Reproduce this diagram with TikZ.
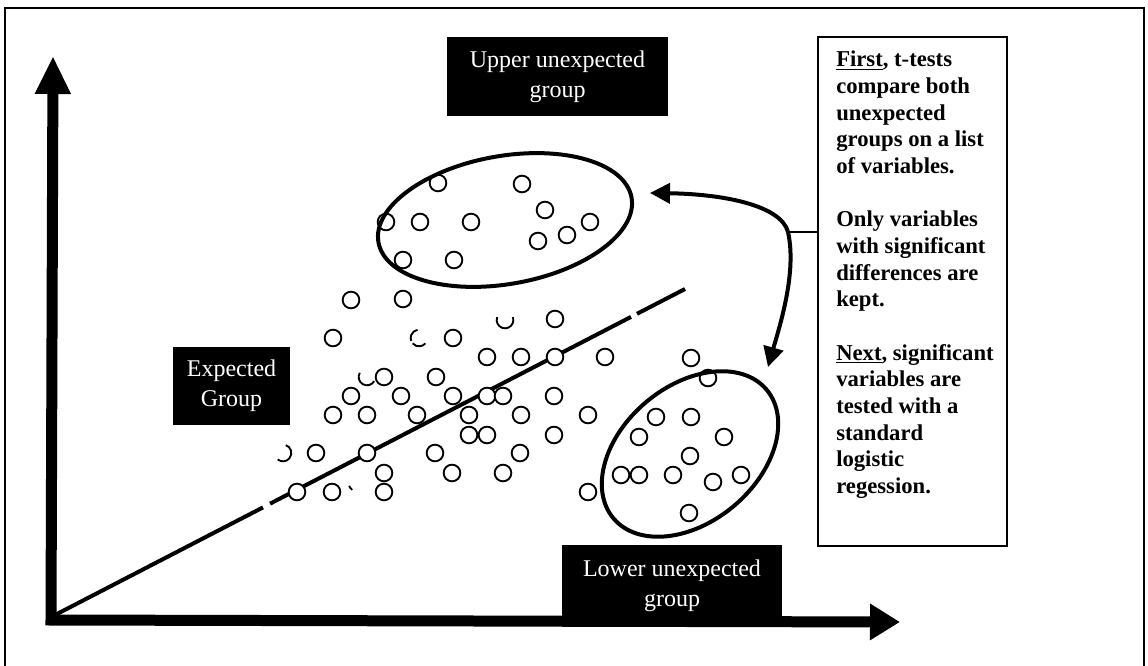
\documentclass[tikz,border=0pt]{standalone}
\usepackage{fontspec}
\setmainfont{Liberation Serif}
\usetikzlibrary{arrows.meta,shapes.geometric}

\tikzset{
  frameline/.style={line width=1.5pt},
  axis/.style={line width=8.25pt, line join=miter},
  trend/.style={line width=3pt},
  dot/.style={circle, draw, fill=white, line width=1.4pt, minimum size=12.5pt, inner sep=0pt},
  brokendot/.style={line width=1.4pt},
  cluster/.style={ellipse, draw, line width=3pt, inner sep=0pt},
  blacklabel/.style={fill=black, text=white, align=center, inner sep=0pt,
    font=\fontsize{18}{22.5}\selectfont},
  notebox/.style={draw, line width=1.2pt, inner sep=0pt},
  notetext/.style={align=left, inner sep=0pt, anchor=north west,
    font=\fontsize{17}{20}\selectfont\bfseries},
  curvearrow/.style={line width=3pt, -{Triangle[length=15pt,width=15pt]}},
}

\begin{document}
\begin{tikzpicture}[x=0.75pt, y=-0.75pt]
\useasboundingbox (0,0) rectangle (1148,666);

% outer frame (open at the bottom)
\draw[frameline] (5,666) -- (5,8) -- (1144,8) -- (1144,666);

% axes
\coordinate (origin) at (51,620);
\coordinate (ytip) at (53,56);
\coordinate (xtip) at (900,622);
\draw[axis, {Triangle[length=28.5pt,width=25pt]}-{Triangle[length=22.5pt,width=26pt]}]
  (ytip) -- (origin) -- (xtip);

% regression line with small breaks
\coordinate (l0) at (55,615);
\coordinate (l1) at (263,507.4);
\coordinate (l2) at (270,503.7);
\coordinate (l3) at (631,316.9);
\coordinate (l4) at (637,313.8);
\coordinate (l5) at (685,289);
\draw[trend] (l0) -- (l1);
\draw[trend] (l2) -- (l3);
\draw[trend] (l4) -- (l5);

% data points
\foreach \x/\y in {
  438/183, 522/184, 545/210, 590/222, 567/235, 538/241, 386/222, 420/222,
  471/222, 403/260, 454/260,
  351/300, 403/299, 555/319, 333/338, 453/338, 487/357, 521/357, 555/357,
  605/357, 384/377, 436/377, 351/396, 401/396, 453/396, 487/396, 503/396,
  554/396, 333/415, 367/415, 417/415, 469/415, 521/415, 588/415, 469/435,
  487/435, 554/435, 316/453, 367/453, 435/453, 520/453, 384/473, 452/473,
  503/473, 297/492, 332/492, 384/492, 588/492,
  691/358, 708/378, 656/417, 691/417, 639/437, 724/437, 690/456, 621/475,
  639/475, 673/475, 713/482, 741/475, 689/513}
  \node[dot] (p-\x-\y) at (\x,\y) {};

% points printed only in part
\draw[brokendot] ([shift={(160:6.25pt)}]505,320) arc[start angle=160, end angle=380, radius=6.25pt];
\draw[brokendot] ([shift={(100:6.25pt)}]419,338) arc[start angle=100, end angle=200, radius=6.25pt];
\draw[brokendot] ([shift={(220:6.25pt)}]419,338) arc[start angle=220, end angle=320, radius=6.25pt];
\draw[brokendot] ([shift={(150:6.25pt)}]367,377) arc[start angle=150, end angle=330, radius=6.25pt];
\draw[brokendot] ([shift={(-130:6.25pt)}]283,453) arc[start angle=-130, end angle=70, radius=6.25pt];
\draw[brokendot] ([shift={(200:6.25pt)}]357,483) arc[start angle=200, end angle=235, radius=6.25pt];

% group outlines
\node[cluster, minimum width=192.75pt, minimum height=96pt, rotate=10] (upper) at (505,220) {};
\node[cluster, minimum width=150pt, minimum height=102pt, rotate=40] (lower) at (690,454) {};

% group labels
\node[blacklabel, minimum width=165.75pt, minimum height=59.25pt] (upperlabel) at (557.5,76.5)
  {Upper unexpected\\group};
\node[blacklabel, minimum width=87.75pt, minimum height=58.5pt] (expectedlabel) at (231.5,386)
  {Expected\\Group};
\node[blacklabel, minimum width=165pt, minimum height=61.5pt] (lowerlabel) at (672,586)
  {Lower unexpected\\group};

% procedure note
\node[notebox, minimum width=141.75pt, minimum height=381.75pt] (note) at (912.5,291.5) {};
\node[notetext] (notetext) at (836,51) {%
  \underline{First}, t-tests\\
  compare both\\
  unexpected\\
  groups on a list\\
  of variables.\\[20pt]
  Only variables\\
  with significant\\
  differences are\\
  kept.\\[20pt]
  \underline{Next}, significant\\
  variables are\\
  tested with a\\
  standard\\
  logistic\\
  regession.};

% arrows from the note to both groups
\coordinate (split) at (788,232);
\coordinate (uppertip) at (650,193);
\coordinate (lowertip) at (768,367);
\draw[line width=1.5pt] (split) -- (split -| note.west);
\draw[curvearrow] (split) .. controls (781,205) and (722,194) .. (uppertip);
\draw[curvearrow] (split) .. controls (797,272) and (780,325) .. (lowertip);

\end{tikzpicture}
\end{document}
